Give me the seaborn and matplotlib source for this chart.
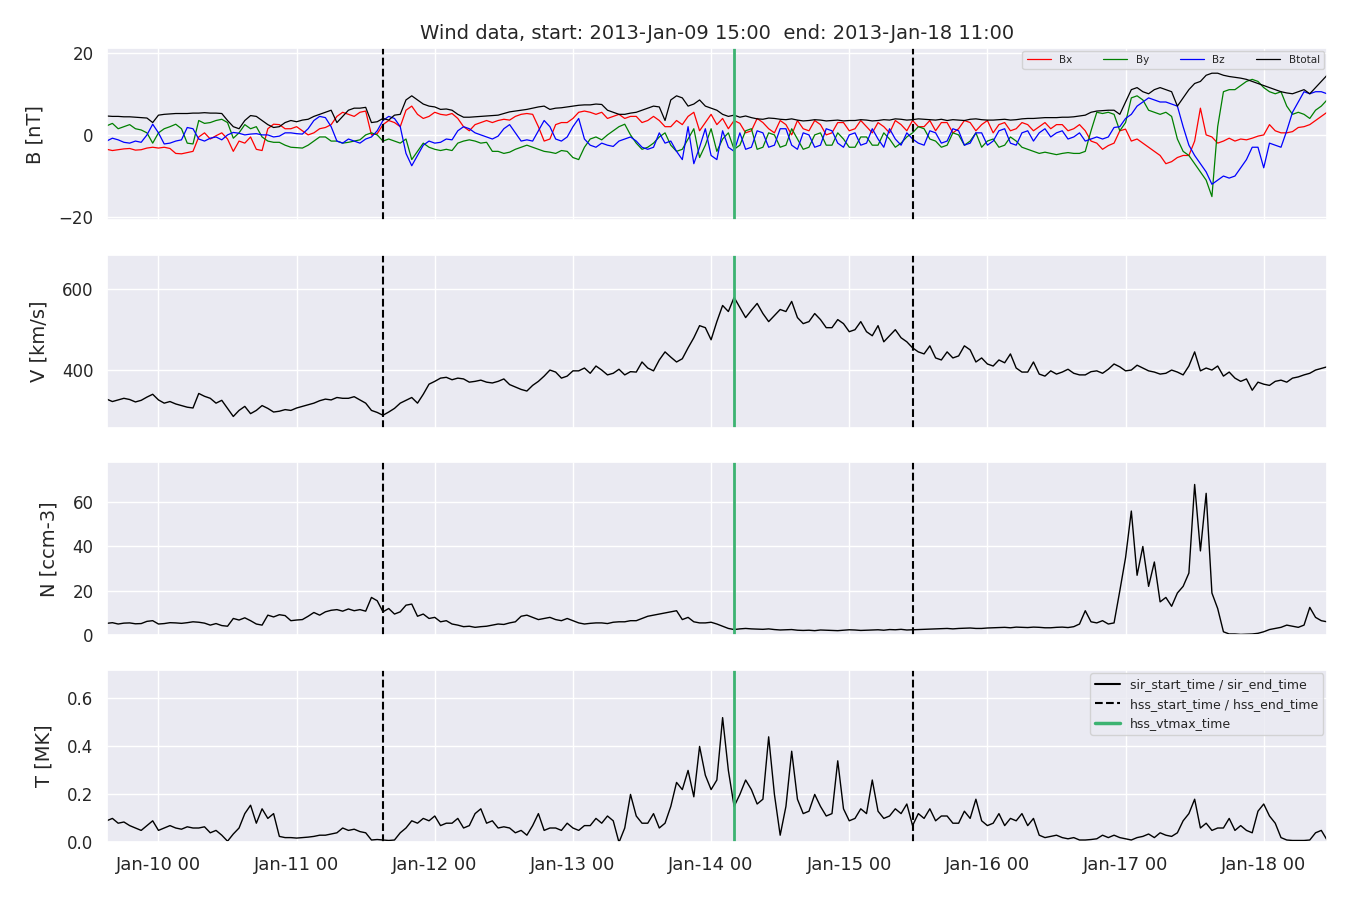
import pandas as pd
import matplotlib
matplotlib.use('Agg')
import matplotlib.pyplot as plt
import matplotlib.dates as mdates
from matplotlib.lines import Line2D
import seaborn as sns

sns.set_theme(style='darkgrid')
plt.rcParams['xtick.labelsize'] = 13
plt.rcParams['ytick.labelsize'] = 12
plt.rcParams['axes.labelsize'] = 14

# time axis: hourly samples, 2013-01-09 15:00 .. 2013-01-18 11:00
t_start = '2013-01-09 15:00'
t_end = '2013-01-18 11:00'
times = pd.date_range(t_start, t_end, freq='1h')

# event times
hss_start_time = pd.Timestamp('2013-01-11 15:00')
hss_end_time = pd.Timestamp('2013-01-15 11:00')
hss_vtmax_time = pd.Timestamp('2013-01-14 04:00')

# magnetic field [nT]
btotal = [4.6, 4.5, 4.5, 4.4, 4.4, 4.3, 4.2, 4.1, 3.0, 4.8, 5.0, 5.1, 5.2, 5.2, 5.2, 5.3,
          5.3, 5.4, 5.3, 5.3, 5.2, 3.5, 2.0, 1.5, 3.5, 4.7, 4.5, 3.5, 2.5, 1.8, 2.0, 3.0,
          3.5, 3.2, 3.6, 3.8, 4.5, 5.0, 5.5, 6.0, 3.0, 4.5, 6.0, 6.5, 6.5, 6.7, 3.0, 3.2,
          4.0, 3.6, 4.8, 5.0, 8.5, 9.5, 8.5, 7.5, 7.0, 6.8, 6.2, 6.3, 6.0, 5.0, 4.3, 4.3,
          4.4, 4.5, 4.6, 4.7, 4.8, 5.2, 5.6, 5.8, 6.0, 6.2, 6.5, 6.8, 7.0, 6.2, 6.5, 6.6,
          6.8, 7.0, 7.2, 7.3, 7.3, 7.5, 7.4, 6.0, 5.5, 5.0, 5.0, 5.3, 5.5, 6.0, 6.5, 7.0,
          6.8, 3.5, 8.5, 9.5, 9.0, 7.0, 7.5, 8.5, 7.0, 6.5, 6.0, 5.0, 4.5, 4.8, 4.3, 4.6,
          4.2, 3.9, 3.8, 4.1, 4.0, 3.8, 3.7, 3.9, 3.6, 3.4, 3.5, 3.7, 3.6, 3.4, 3.5, 3.6,
          3.4, 3.5, 3.5, 3.7, 3.6, 3.4, 3.5, 3.7, 3.6, 3.9, 3.8, 3.6, 3.7, 3.9, 3.8, 3.7,
          3.6, 3.8, 3.5, 3.7, 3.6, 3.5, 3.8, 3.9, 3.7, 3.6, 3.6, 3.7, 3.8, 3.6, 3.7, 3.9,
          4.0, 4.0, 4.1, 4.2, 4.2, 4.2, 4.3, 4.3, 4.4, 4.6, 4.8, 5.5, 5.8, 5.9, 6.0, 6.0,
          5.0, 8.0, 11.0, 11.5, 10.5, 10.0, 11.0, 11.5, 11.0, 10.5, 7.0, 9.0, 11.0, 12.5, 13.0, 14.5,
          15.0, 15.0, 14.5, 14.2, 14.0, 13.8, 13.5, 13.0, 12.5, 12.0, 11.5, 11.0, 10.5, 10.2, 10.0, 10.5,
          11.0, 10.0, 11.5, 13.0, 14.5]
bx = [-3.5, -3.8, -3.6, -3.4, -3.3, -3.7, -3.6, -3.2, -3.0, -3.2, -3.0, -3.3, -4.5, -4.6, -4.3, -4.0,
      -0.5, 0.5, -1.0, -0.2, 0.5, -1.0, -4.0, -1.5, -2.0, -0.5, -3.5, -3.8, 1.5, 2.6, 2.5, 1.5,
      1.5, 2.0, 1.0, 0.0, 0.5, 1.5, 1.8, 2.5, 4.5, 5.5, 5.0, 4.5, 5.5, 5.8, 0.0, 0.3,
      2.5, 3.5, 3.0, 2.0, 6.0, 7.0, 5.0, 4.0, 4.5, 5.5, 5.0, 4.8, 5.2, 4.0, 2.0, 1.0,
      2.5, 3.0, 3.5, 3.0, 3.5, 3.8, 3.6, 4.5, 5.0, 5.2, 5.0, 2.0, -1.5, -1.0, 2.5, 3.0,
      3.0, 4.0, 5.5, 5.8, 5.5, 5.0, 5.5, 4.0, 4.5, 5.0, 4.0, 4.5, 4.5, 3.0, 3.5, 4.5,
      3.5, 2.0, 2.0, 3.5, 2.5, 4.5, 5.5, 1.0, 3.0, 5.0, 2.5, 4.0, 1.5, 3.5, 2.8, 0.5,
      1.0, 4.0, 3.0, 1.5, 0.5, 3.5, 2.5, 0.0, 3.5, 1.5, 1.0, 3.5, 2.5, 0.0, 0.5, 3.0,
      3.0, 1.0, 1.5, 3.5, 2.0, 0.5, 3.0, 2.0, 0.5, 3.5, 2.5, 1.0, 3.5, 2.0, 2.0, 3.5,
      1.0, 3.0, 3.0, 0.5, 1.5, 3.5, 3.0, 1.0, 2.5, 3.5, 0.5, 2.5, 3.0, 1.0, 1.5, 3.0,
      2.5, 1.0, 2.0, 3.0, 1.5, 2.5, 2.5, 1.0, 1.5, 2.5, 1.0, -1.5, -2.0, -3.5, -2.6, -2.0,
      1.0, 1.4, -1.5, -1.0, -2.0, -3.0, -4.0, -5.0, -7.0, -6.5, -5.5, -5.0, -5.0, -1.5, 6.5, 0.0,
      -0.5, -2.0, -1.5, -0.8, -1.5, -1.0, -1.2, -0.8, -0.3, 0.0, 2.5, 1.0, 0.5, 0.5, 0.8, 1.8,
      2.0, 2.5, 3.5, 4.5, 5.5]
by = [2.2, 2.8, 1.5, 2.0, 2.5, 1.5, 1.2, 0.5, -2.0, 0.5, 1.5, 2.0, 2.6, 1.5, -2.0, -2.2,
      3.5, 2.8, 3.0, 3.5, 3.8, 3.0, -0.8, 0.5, 2.5, 1.5, 2.0, -0.5, -1.5, -1.8, -1.8, -2.5,
      -3.0, -3.1, -3.2, -2.5, -1.5, -0.5, -0.5, -1.5, -1.5, -2.0, -1.8, -1.5, -1.2, 0.0, 0.5, 0.0,
      -1.5, -1.0, -1.5, -2.0, -1.0, -6.0, -4.0, -2.0, -3.0, -3.5, -3.8, -3.5, -3.8, -2.0, -1.5, -1.2,
      -1.5, -2.0, -1.8, -4.0, -4.0, -4.5, -4.2, -3.5, -3.0, -2.5, -3.0, -3.5, -4.0, -4.2, -4.5, -3.8,
      -4.0, -5.5, -6.0, -3.0, -1.0, -0.5, -1.2, 0.0, 1.0, 2.0, 2.6, 0.0, -2.0, -3.5, -3.0, -2.0,
      -0.5, 0.5, -2.5, -4.0, -3.5, -1.0, 1.5, -5.5, -2.5, 1.5, -4.0, -1.0, 0.5, -3.5, -2.5, 1.0,
      1.5, -3.5, -3.0, 0.5, 0.0, -3.0, -2.5, 1.5, -1.0, -3.5, -3.0, 0.0, 0.5, -2.5, -2.5, 0.5,
      -1.0, -3.0, -3.0, -0.5, -0.5, -2.5, -2.5, 0.5, -1.0, -3.0, -2.0, -0.5, 0.5, 2.0, 1.5, -1.0,
      -1.5, -3.0, -2.5, 0.5, 0.0, -2.5, -1.5, 0.5, -3.0, -1.5, -1.0, -3.0, -2.5, -0.5, -1.5, -3.0,
      -3.5, -4.0, -4.5, -4.2, -4.5, -4.8, -4.5, -4.3, -4.5, -4.5, -4.0, 1.0, 5.5, 5.2, 5.5, 5.0,
      1.0, 3.0, 9.0, 9.5, 8.5, 6.0, 5.5, 5.0, 5.5, 4.5, -1.0, -4.0, -5.0, -7.0, -9.0, -11.0,
      -15.0, 2.0, 10.5, 11.0, 11.0, 12.0, 13.0, 13.5, 13.0, 11.5, 10.5, 10.0, 10.5, 7.0, 5.0, 5.5,
      5.0, 4.0, 6.0, 7.0, 8.5]
bz = [-1.5, -0.8, -1.2, -1.8, -2.0, -1.5, -1.8, 0.0, 2.6, 0.5, -2.2, -2.0, -1.5, -1.2, 1.8, 1.5,
      -1.0, -1.5, -0.8, -0.5, -1.2, 0.0, 0.6, 0.4, 0.0, 0.2, 0.3, 0.0, 0.0, -0.5, -0.3, 0.5,
      0.5, 0.3, 0.2, 1.5, 3.5, 4.5, 4.2, 2.0, -1.5, -2.0, -1.0, -1.5, -2.0, -1.0, -0.5, 1.0,
      3.5, 4.5, 4.0, 2.0, -4.5, -7.5, -5.0, -2.5, -1.5, -2.0, -1.8, -1.0, -1.2, 1.0, 2.0, 1.5,
      0.5, 0.0, -0.5, -1.0, -0.3, 1.5, 2.5, 0.5, -1.5, -1.2, -1.5, 1.0, 3.5, 2.0, -1.0, -1.5,
      -0.5, 2.0, 4.0, -1.0, -2.5, -3.0, -2.0, -2.5, -2.8, -1.5, -1.0, -0.5, -1.5, -3.0, -3.5, -3.0,
      0.5, -2.0, -1.5, -4.0, -6.0, 2.0, -7.0, -3.0, 1.5, -5.0, -6.0, 1.0, -3.0, -4.0, 0.5, -3.5,
      -3.0, 1.0, 0.5, -3.0, -2.5, 1.5, 1.5, -2.5, -3.5, 0.5, 0.0, -3.0, -2.5, 1.5, 1.0, -2.0,
      -3.0, 0.0, 0.5, -2.5, -2.0, 1.5, -1.0, -3.0, 1.5, -1.0, -2.5, 0.5, -1.0, -2.0, -2.5, 1.0,
      0.5, -2.0, -1.5, 1.5, 1.0, -2.5, -2.0, 0.5, 0.5, -2.5, -1.5, 1.0, 1.5, -2.0, -2.5, 0.5,
      1.0, -1.5, 0.5, 1.5, -0.5, 0.5, 1.0, -1.0, -0.5, 0.5, -1.5, -1.0, -0.5, -1.0, -0.5, 1.8,
      2.0, 4.0, 5.0, 7.0, 8.0, 9.0, 8.5, 8.0, 8.0, 7.5, 7.0, 2.0, -2.5, -5.0, -7.0, -9.0,
      -12.0, -11.0, -10.0, -10.5, -10.0, -8.0, -6.0, -3.0, -3.0, -8.0, -2.0, -2.5, -3.0, 1.0, 5.5, 8.0,
      10.5, 10.0, 10.5, 10.5, 10.0]

# bulk speed [km/s]
v = [328, 322, 326, 330, 327, 321, 325, 333, 340, 326, 318, 322, 316, 312, 308, 306,
     342, 335, 330, 318, 325, 305, 285, 300, 310, 292, 300, 312, 305, 296, 298, 302,
     300, 306, 310, 314, 318, 324, 328, 326, 332, 330, 330, 334, 326, 318, 300, 295,
     288, 296, 305, 318, 325, 332, 318, 340, 365, 372, 380, 382, 376, 380, 378, 370,
     372, 375, 370, 368, 372, 378, 364, 358, 352, 348, 362, 372, 385, 400, 395, 380,
     385, 398, 398, 405, 392, 410, 400, 388, 392, 402, 388, 396, 395, 420, 405, 398,
     425, 445, 432, 420, 428, 455, 480, 510, 505, 475, 520, 560, 545, 580, 555, 530,
     548, 565, 540, 520, 535, 550, 545, 570, 530, 515, 520, 540, 525, 505, 505, 525,
     515, 495, 500, 520, 495, 485, 510, 470, 485, 500, 480, 470, 455, 445, 440, 460,
     430, 425, 445, 430, 435, 460, 450, 420, 430, 415, 410, 425, 418, 440, 405, 395,
     395, 420, 390, 385, 398, 390, 395, 402, 392, 388, 388, 396, 398, 392, 402, 415,
     408, 398, 400, 412, 405, 398, 395, 390, 392, 400, 395, 388, 410, 445, 398, 405,
     400, 410, 385, 395, 380, 372, 378, 350, 370, 365, 362, 372, 375, 370, 380, 383,
     388, 392, 400, 404, 408]

# proton density [ccm-3]
n = [5.3, 5.6, 5.0, 5.4, 5.5, 5.1, 5.2, 6.2, 6.5, 5.0, 5.2, 5.6, 5.5, 5.3, 5.6, 6.0,
     5.8, 5.4, 4.5, 5.2, 4.3, 4.0, 7.5, 6.8, 7.8, 6.5, 5.0, 4.5, 9.0, 8.2, 9.2, 8.8,
     6.5, 6.8, 7.0, 8.5, 10.2, 9.0, 10.5, 11.2, 11.5, 10.8, 11.8, 11.0, 11.5, 10.8, 17.0, 15.5,
     10.5, 12.0, 9.5, 10.5, 13.5, 14.0, 8.5, 9.5, 7.5, 8.0, 6.0, 6.5, 5.0, 4.5, 3.8, 4.0,
     3.5, 3.8, 4.0, 4.5, 5.0, 4.8, 5.5, 6.0, 8.5, 9.0, 8.0, 7.0, 7.5, 8.0, 7.0, 6.5,
     7.5, 6.5, 5.5, 5.0, 5.3, 5.5, 5.5, 5.2, 5.8, 6.0, 6.0, 6.5, 6.5, 7.5, 8.5, 9.0,
     9.5, 10.0, 10.5, 11.0, 7.0, 8.0, 6.0, 5.5, 5.5, 5.8, 5.0, 4.0, 3.0, 2.5, 2.8, 3.0,
     2.8, 2.7, 2.6, 2.8, 2.5, 2.3, 2.4, 2.5, 2.2, 2.1, 2.2, 2.0, 2.3, 2.2, 2.1, 2.0,
     2.2, 2.4, 2.3, 2.1, 2.2, 2.3, 2.4, 2.2, 2.5, 2.4, 2.6, 2.3, 2.4, 2.5, 2.6, 2.7,
     2.8, 2.9, 3.0, 2.8, 3.0, 3.1, 3.2, 3.0, 3.0, 3.2, 3.3, 3.4, 3.5, 3.3, 3.6, 3.5,
     3.4, 3.6, 3.5, 3.3, 3.3, 3.5, 3.6, 3.4, 3.8, 5.0, 11.0, 6.0, 5.5, 6.5, 5.0, 5.5,
     20.0, 35.0, 56.0, 27.0, 40.0, 22.0, 33.0, 15.0, 17.0, 13.0, 19.0, 22.0, 28.0, 68.0, 38.0, 64.0,
     19.0, 12.0, 1.5, 0.5, 0.5, 0.3, 0.4, 0.5, 0.8, 1.5, 2.5, 3.0, 3.5, 4.5, 4.0, 3.5,
     4.5, 12.5, 8.0, 6.5, 6.0]

# proton temperature [MK]
temp = [0.09, 0.10, 0.08, 0.085, 0.07, 0.06, 0.05, 0.07, 0.09, 0.05, 0.06, 0.07, 0.06, 0.055, 0.065, 0.06,
        0.06, 0.065, 0.04, 0.05, 0.03, 0.005, 0.035, 0.06, 0.12, 0.155, 0.08, 0.14, 0.10, 0.12, 0.025, 0.02,
        0.02, 0.018, 0.02, 0.022, 0.025, 0.03, 0.03, 0.035, 0.04, 0.06, 0.05, 0.055, 0.045, 0.04, 0.01, 0.012,
        0.01, 0.008, 0.01, 0.04, 0.06, 0.09, 0.08, 0.10, 0.09, 0.11, 0.07, 0.08, 0.08, 0.10, 0.06, 0.07,
        0.12, 0.14, 0.08, 0.09, 0.06, 0.065, 0.06, 0.04, 0.05, 0.03, 0.07, 0.12, 0.05, 0.06, 0.06, 0.05,
        0.08, 0.06, 0.05, 0.07, 0.07, 0.10, 0.08, 0.11, 0.09, 0.0, 0.06, 0.20, 0.11, 0.08, 0.08, 0.12,
        0.06, 0.08, 0.15, 0.25, 0.22, 0.30, 0.19, 0.40, 0.28, 0.22, 0.26, 0.52, 0.30, 0.15, 0.20, 0.26,
        0.22, 0.16, 0.18, 0.44, 0.20, 0.03, 0.15, 0.38, 0.18, 0.12, 0.13, 0.20, 0.15, 0.11, 0.12, 0.34,
        0.14, 0.09, 0.10, 0.14, 0.12, 0.26, 0.13, 0.10, 0.11, 0.14, 0.12, 0.16, 0.07, 0.12, 0.10, 0.14,
        0.09, 0.11, 0.11, 0.08, 0.08, 0.13, 0.10, 0.18, 0.09, 0.07, 0.08, 0.12, 0.07, 0.10, 0.09, 0.12,
        0.07, 0.10, 0.03, 0.02, 0.025, 0.03, 0.02, 0.015, 0.02, 0.01, 0.01, 0.012, 0.015, 0.03, 0.02, 0.03,
        0.02, 0.015, 0.01, 0.02, 0.025, 0.035, 0.02, 0.04, 0.03, 0.025, 0.04, 0.09, 0.12, 0.18, 0.06, 0.08,
        0.05, 0.06, 0.06, 0.10, 0.05, 0.07, 0.05, 0.04, 0.13, 0.16, 0.11, 0.08, 0.02, 0.01, 0.008, 0.008,
        0.008, 0.01, 0.04, 0.05, 0.01]

df = pd.DataFrame({'time': times, 'Bx': bx, 'By': by, 'Bz': bz, 'Btotal': btotal,
                   'V': v, 'N': n, 'T': temp})

fig, axes = plt.subplots(4, 1, figsize=(13.5, 9), dpi=100, sharex=True)
fig.subplots_adjust(left=0.079, right=0.983, top=0.947, bottom=0.064, hspace=0.2)

# panel 1: magnetic field components
ax = axes[0]
for col, c in [('Bx', 'red'), ('By', 'green'), ('Bz', 'blue'), ('Btotal', 'black')]:
    sns.lineplot(data=df, x='time', y=col, ax=ax, color=c, lw=0.9, label=col)
ax.set_ylim(-20.8, 21.2)
ax.set_yticks([-20, 0, 20])
ax.set_ylabel('B [nT]', labelpad=10)
ax.legend(loc='upper right', ncol=4, fontsize=7.5, borderaxespad=0.3,
          handlelength=2.3, columnspacing=3.0)
ax.set_title('Wind data, start: 2013-Jan-09 15:00  end: 2013-Jan-18 11:00', fontsize=14)

sns.lineplot(data=df, x='time', y='V', ax=axes[1], color='black', lw=1)
axes[1].set_ylim(257, 685)
axes[1].set_yticks([400, 600])
axes[1].set_ylabel('V [km/s]', labelpad=10)

sns.lineplot(data=df, x='time', y='N', ax=axes[2], color='black', lw=1)
axes[2].set_ylim(0, 78)
axes[2].set_yticks([0, 20, 40, 60])
axes[2].set_ylabel('N [ccm-3]', labelpad=10)

sns.lineplot(data=df, x='time', y='T', ax=axes[3], color='black', lw=1)
axes[3].set_ylim(0, 0.72)
axes[3].set_yticks([0.0, 0.2, 0.4, 0.6])
axes[3].set_ylabel('T [MK]', labelpad=10)

for ax in axes:
    ax.axvline(hss_start_time, color='black', ls='--', lw=1.5)
    ax.axvline(hss_end_time, color='black', ls='--', lw=1.5)
    ax.axvline(hss_vtmax_time, color='mediumseagreen', ls='-', lw=2)
    ax.set_xlabel('')

handles = [Line2D([], [], color='black', lw=1.5),
           Line2D([], [], color='black', lw=1.5, ls='--'),
           Line2D([], [], color='mediumseagreen', lw=2.5)]
axes[3].legend(handles, ['sir_start_time / sir_end_time', 'hss_start_time / hss_end_time',
                         'hss_vtmax_time'], loc='upper right', fontsize=9, borderaxespad=0.3)

axes[3].set_xlim(pd.Timestamp(t_start), pd.Timestamp(t_end))
axes[3].xaxis.set_major_locator(mdates.DayLocator())
axes[3].xaxis.set_major_formatter(mdates.DateFormatter('%b-%d %H'))

fig.savefig('out.png', dpi=100)
